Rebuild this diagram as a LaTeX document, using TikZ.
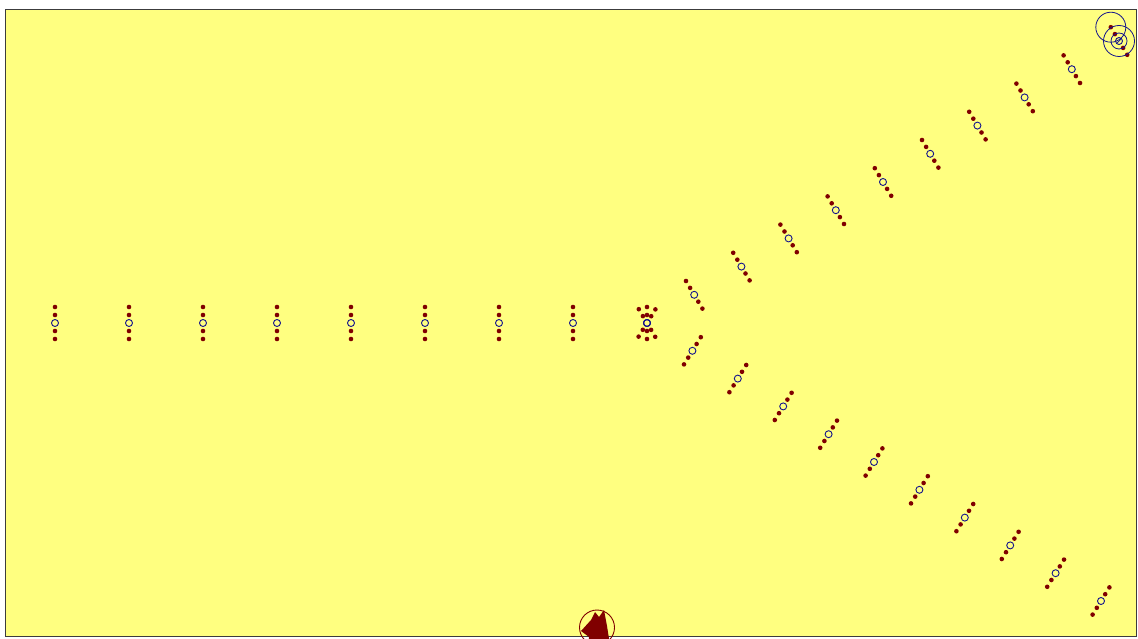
\documentclass[tikz,border=0pt]{standalone}
\usepackage{tikz}
\usetikzlibrary{calc}
\definecolor{FieldYellow}{RGB}{255,255,128}
\definecolor{BeadRed}{RGB}{128,0,0}
\definecolor{RingBlue}{RGB}{20,20,140}
\definecolor{FrameGray}{RGB}{60,60,60}

\begin{document}
\begin{tikzpicture}[x=1pt,y=-1pt,
  bead/.style={fill=BeadRed},
  ring/.style={draw=RingBlue,line width=0.9pt},
  halo/.style={draw=RingBlue,line width=0.8pt}]
\useasboundingbox (0,0) rectangle (1138,639);
\clip (0,0) rectangle (1138,639);
\draw[FrameGray,fill=FieldYellow,line width=1pt] (5.5,10) rectangle (1136,636);
% straight column of clusters
\foreach \i in {0,...,8} {
  \coordinate (c\i) at ({55+74*\i},323);
  \foreach \s in {-2,-1,1,2} \fill[bead] ($(c\i)+(0,8*\s)$) circle (2.3pt);
  \draw[ring] (c\i) circle (3.5pt);
}
% the two arms leaving the split
\foreach \k in {0,...,10} {
  \coordinate (u\k) at ({647+47.2*\k},{323-28.2*\k});
  \coordinate (d\k) at ({647+45.4*\k},{323+27.8*\k});
  \foreach \s in {-2,-1,1,2} {
    \fill[bead] ($(u\k)+(4.1*\s,6.9*\s)$) circle (2.3pt);
    \fill[bead] ($(d\k)+(4.2*\s,-6.8*\s)$) circle (2.3pt);
  }
  \draw[ring] (u\k) circle (3.5pt);
  \draw[ring] (d\k) circle (3.5pt);
}
% marker at the end of the upper arm
\draw[halo] ($(u10)+(-8.2,-13.8)$) circle (15pt);
\draw[halo] (u10) circle (15.5pt);
\draw[halo] (u10) circle (8pt);
\draw[RingBlue,line width=0.7pt] ($(u10)+(-2,2)$) -- ($(u10)+(2,-2)$);
% source at the bottom edge
\coordinate (src) at (597,627.5);
\fill[BeadRed] (581,631) -- (591,620) -- (595,612) -- (599,617) -- (604,610) -- (607,626) -- (610,645) -- (588,645) -- (589,637) -- cycle;
\draw[BeadRed,line width=0.9pt] (src) circle (17.5pt);
\end{tikzpicture}
\end{document}
